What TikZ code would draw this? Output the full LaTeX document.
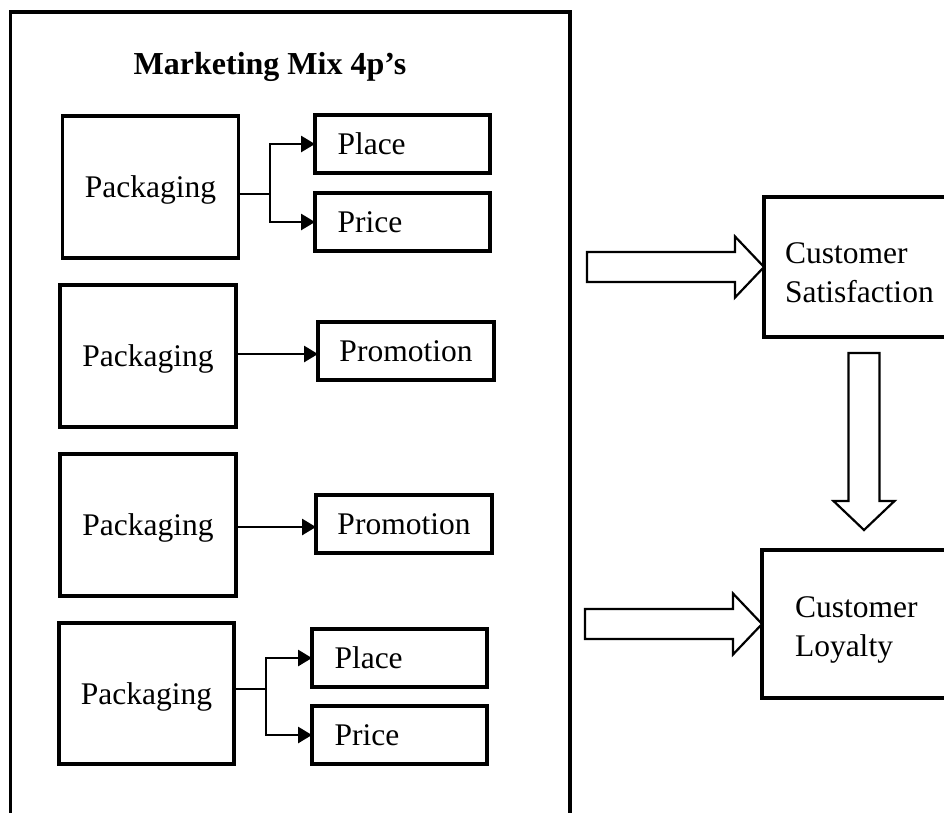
\documentclass[tikz,border=0pt]{standalone}
\usepackage{fontspec}
\setmainfont{Liberation Serif}
\usetikzlibrary{arrows.meta,calc}
\newcommand\diagtext{\fontsize{31.5}{39}\selectfont}
\newcommand\diagtitle{\fontsize{32}{38}\selectfont\bfseries}
\begin{document}
\begin{tikzpicture}[x=1pt,y=-1pt,
  every node/.style={inner sep=0pt, outer sep=0pt},
  box/.style={draw, line width=3.3pt, font=\diagtext, text depth=0pt, anchor=north west},
  pack/.style={box, minimum width=176pt, minimum height=142pt},
  choice/.style={box, minimum height=58pt, text width=130pt, inner xsep=22.5pt, align=left},
  promo/.style={box, minimum width=176pt, minimum height=58pt},
  goal/.style={draw, line width=3.3pt, anchor=north west, minimum width=200pt},
  lbl/.style={font=\diagtext, align=left, anchor=north west},
  link/.style={line width=2.8pt, line join=miter, -{Triangle[length=14pt,width=16pt]}},
  hollow/.style={draw, line width=2.2pt, fill=white, line join=miter},
  frame/.style={line width=3.3pt, line join=miter},
  hollowright/.pic={\path[hollow] (-177,-15) -- (-29,-15) -- (-29,-30.5) -- (0,0)
      -- (-29,30.5) -- (-29,15) -- (-177,15) -- cycle;},
  hollowdown/.pic={\path[hollow] (-15.5,-177) -- (15.5,-177) -- (15.5,-29) -- (30.5,-29)
      -- (0,0) -- (-30.5,-29) -- (-15.5,-29) -- cycle;}
]
\useasboundingbox (0,0) rectangle (944,812);
\clip (0,0) rectangle (944,812);
\fill[white] (0,0) rectangle (944,812);

% outer frame, open at the bottom
\draw[frame] (10.5,830) -- (10.5,12) -- (570,12) -- (570,830);
\node[font=\diagtitle, anchor=base] (title) at (270,74) {Marketing Mix 4p’s};

% group 1
\node[pack] (pk1) at (62.5,116) {Packaging};
\node[choice] (pl1) at (315,115) {Place};
\node[choice] (pr1) at (315,193) {Price};
\coordinate (j1) at (270,194);
\draw[link] (pk1.east |- j1) -- (j1) |- (pl1.west);
\draw[link] (j1) |- (pr1.west);

% group 2
\node[pack] (pk2) at (60,285) {Packaging};
\node[promo] (pm2) at (318,322) {Promotion};
\draw[link] ($(pk2.east)+(0,-2)$) -- ($(pk2.east -| pm2.west)+(0,-2)$);

% group 3
\node[pack] (pk3) at (60,454) {Packaging};
\node[promo] (pm3) at (316,495) {Promotion};
\draw[link] ($(pk3.east)+(0,2)$) -- ($(pk3.east -| pm3.west)+(0,2)$);

% group 4
\node[pack, minimum width=175pt, minimum height=141pt] (pk4) at (59,623) {Packaging};
\node[choice] (pl4) at (312,629) {Place};
\node[choice] (pr4) at (312,706) {Price};
\coordinate (j4) at (266,689);
\draw[link] (pk4.east |- j4) -- (j4) |- (pl4.west);
\draw[link] (j4) |- (pr4.west);

% outcomes
\node[goal, minimum height=140pt] (cs) at (764,197) {};
\node[lbl] (cslbl) at (785,243) {Customer\\Satisfaction};
\node[goal, minimum height=148pt] (cl) at (762,550) {};
\node[lbl] (cllbl) at (795,597) {Customer\\Loyalty};

\pic at (cs.west) {hollowright};
\pic at (cl.west) {hollowright};
\coordinate (dtip) at ($(cl.north west)+(102,-20)$);
\pic at (dtip) {hollowdown};
\end{tikzpicture}
\end{document}
